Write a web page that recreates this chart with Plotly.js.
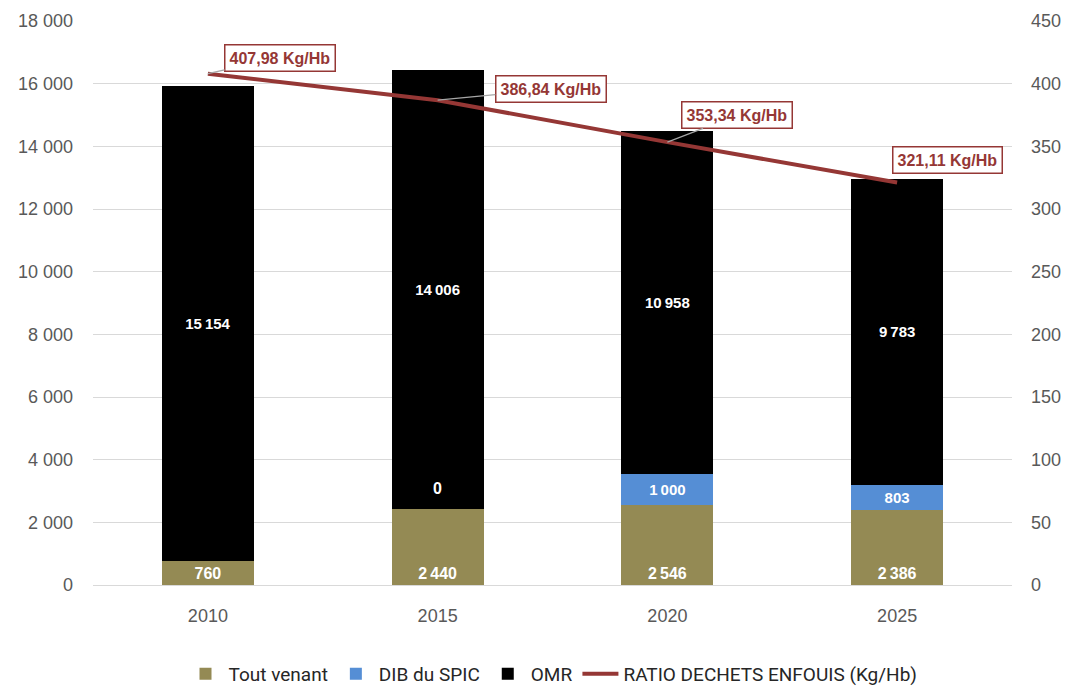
<!DOCTYPE html>
<html><head><meta charset="utf-8">
<script src="https://cdn.plot.ly/plotly-3.0.1.min.js"></script>
<style>html,body{margin:0;padding:0;background:#fff}#chart{width:1070px;height:689px}</style>
</head><body><div id="chart"></div>
<script>
const years = ['2010','2015','2020','2025'];
const toutVenant = [760, 2440, 2546, 2386];
const dibSpic = [null, 0, 1000, 803];
const omr = [15154, 14006, 10958, 9783];
const ratio = [407.98, 386.84, 353.34, 321.11];
const leftTicks = [0,2000,4000,6000,8000,10000,12000,14000,16000,18000];
const rightTicks = [0,50,100,150,200,250,300,350,400,450];

function fmtInt(v, sep){ return v==null ? '' : String(v).replace(/\B(?=(\d{3})+(?!\d))/g, sep || '\u2009'); }
function fmtDec(v){ return v.toFixed(2).replace('.', ','); }

const SANS = 'Liberation Sans, Arial, sans-serif';
const RED = '#953735';
const GREY = '#595959';

const traces = [
  {type:'bar', name:'Tout venant', x:years, y:toutVenant, marker:{color:'#948A54'},
   text:toutVenant.map(v=>fmtInt(v)), textposition:'inside', insidetextanchor:'start', constraintext:'none', textangle:0,
   textfont:{color:'#fff', size:16, family:SANS, weight:'bold'}, hoverinfo:'skip'},
  {type:'bar', name:'DIB du SPIC', x:years, y:dibSpic, marker:{color:'#558ED5'},
   text:dibSpic.map(v=> v ? fmtInt(v) : ''), textposition:'inside', insidetextanchor:'middle', constraintext:'none', textangle:0,
   textfont:{color:'#fff', size:15, family:SANS, weight:'bold'}, hoverinfo:'skip'},
  {type:'bar', name:'OMR', x:years, y:omr, marker:{color:'#000000'},
   text:omr.map(v=>fmtInt(v)), textposition:'inside', insidetextanchor:'middle', textangle:0,
   textfont:{color:'#fff', size:15, family:SANS, weight:'bold'}, hoverinfo:'skip'},
  {type:'scatter', mode:'lines', name:'RATIO DECHETS ENFOUIS (Kg/Hb)', x:years, y:ratio, yaxis:'y2',
   line:{color:RED, width:4}, hoverinfo:'skip'}
];

const offsets = [[72,-16],[113,-11],[70,-27],[50,-23]];
const arrows = [true,true,true,false];
const annotations = ratio.map((v,i)=>({
  x:i, y:v, xref:'x', yref:'y2', text:'<b>'+fmtDec(v)+' Kg/Hb</b>',
  showarrow:true, arrowhead:0, arrowwidth:1.2, arrowcolor: arrows[i] ? '#a6a6a6' : 'rgba(0,0,0,0)',
  ax:offsets[i][0], ay:offsets[i][1],
  font:{color:RED, size:16, family:SANS},
  bgcolor:'#fff', bordercolor:RED, borderwidth:1.5, borderpad:4
}));
dibSpic.forEach((v,i)=>{
  if(v===0){
    annotations.push({x:i, y:toutVenant[i]+v, xref:'x', yref:'y', yshift:20,
      text:'<b>'+fmtInt(v)+'</b>', showarrow:false,
      font:{color:'#fff', size:16, family:SANS}});
  }
});

const layout = {
  width:1070, height:689,
  margin:{l:93, r:58, t:21, b:104},
  paper_bgcolor:'#fff', plot_bgcolor:'#fff',
  barmode:'stack', bargap:0.6,
  font:{family:SANS, color:GREY},
  showlegend:true,
  legend:{orientation:'h', xref:'paper', x:0.5, xanchor:'center', yref:'container', y:0.022, yanchor:'middle',
    font:{size:19, family:'Roboto, sans-serif', color:'#262626'}, traceorder:'normal', itemwidth:36},
  xaxis:{type:'category', categoryorder:'array', categoryarray:years, range:[-0.5, years.length-0.5], autorange:false,
    showgrid:false, zeroline:false, showline:false, tickfont:{size:18, color:GREY}, ticks:'', ticklabelstandoff:18},
  yaxis:{range:[0,18000], tickmode:'array', tickvals:leftTicks, ticktext:leftTicks.map(v=>fmtInt(v,' ')),
    gridcolor:'#d9d9d9', gridwidth:1, zeroline:true, zerolinecolor:'#d9d9d9',
    showline:false, tickfont:{size:18, color:GREY}, ticks:'', ticklabelstandoff:19},
  yaxis2:{range:[0,450], tickmode:'array', tickvals:rightTicks, overlaying:'y', side:'right', showgrid:false,
    zeroline:false, showline:false, tickfont:{size:18, color:GREY}, ticklabelstandoff:18},
  annotations:annotations
};

Plotly.newPlot('chart', traces, layout, {displayModeBar:false, staticPlot:true});
</script></body></html>
